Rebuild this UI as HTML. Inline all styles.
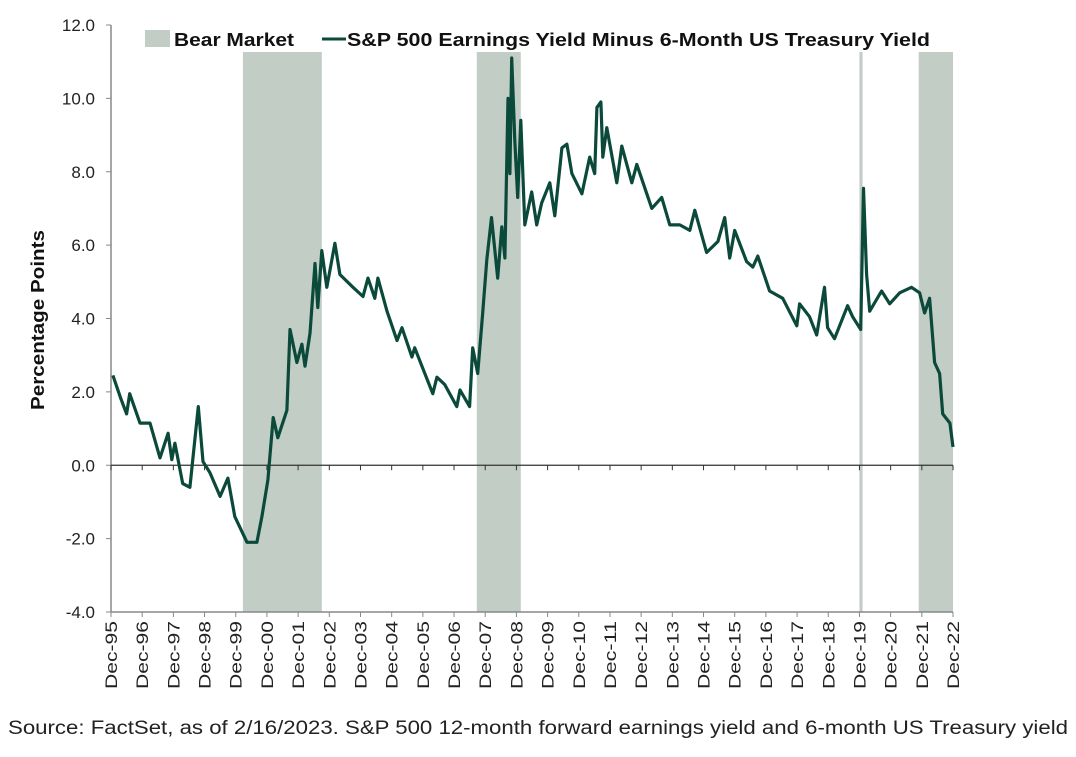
<!DOCTYPE html>
<html><head><meta charset="utf-8"><style>
body{margin:0;background:#fff;width:1076px;height:752px;overflow:hidden;font-family:"Liberation Sans",sans-serif}
</style></head><body>
<svg width="1076" height="752" id="c" font-family="Liberation Sans, sans-serif"></svg>
<script>
const yTicks=[12,10,8,6,4,2,0,-2,-4];
const xLabels=["Dec-95","Dec-96","Dec-97","Dec-98","Dec-99","Dec-00","Dec-01","Dec-02","Dec-03","Dec-04","Dec-05","Dec-06","Dec-07","Dec-08","Dec-09","Dec-10","Dec-11","Dec-12","Dec-13","Dec-14","Dec-15","Dec-16","Dec-17","Dec-18","Dec-19","Dec-20","Dec-21","Dec-22"];
const bearStart=[4.23,11.73,24.0,25.9];
const bearEnd=[6.76,13.14,24.1,27.0];
const t=[0.06,0.3,0.5,0.6,0.93,1.25,1.57,1.83,1.95,2.05,2.3,2.53,2.8,2.95,3.17,3.5,3.75,3.97,4.36,4.68,4.84,5.03,5.2,5.35,5.64,5.74,5.96,6.12,6.22,6.38,6.54,6.63,6.76,6.92,7.18,7.34,7.76,8.08,8.24,8.46,8.56,8.85,9.17,9.33,9.65,9.74,10.32,10.45,10.7,11.09,11.19,11.5,11.6,11.76,11.92,12.05,12.2,12.4,12.53,12.63,12.73,12.79,12.85,12.95,13.04,13.14,13.27,13.49,13.65,13.81,14.07,14.23,14.46,14.62,14.78,15.1,15.35,15.51,15.58,15.71,15.77,15.9,16.22,16.38,16.7,16.86,17.18,17.34,17.66,17.92,18.24,18.56,18.72,19.1,19.46,19.68,19.84,20.0,20.38,20.58,20.74,21.12,21.54,21.99,22.08,22.4,22.63,22.88,22.98,23.2,23.62,23.78,24.04,24.13,24.23,24.33,24.71,24.97,25.29,25.67,25.93,26.09,26.25,26.41,26.57,26.67,26.9,27.0];
const v=[2.45,1.85,1.4,1.95,1.15,1.15,0.2,0.87,0.15,0.6,-0.5,-0.6,1.6,0.1,-0.2,-0.85,-0.35,-1.4,-2.1,-2.1,-1.4,-0.4,1.3,0.75,1.5,3.7,2.8,3.3,2.7,3.6,5.5,4.3,5.85,4.85,6.05,5.2,4.85,4.6,5.1,4.55,5.1,4.2,3.4,3.75,2.95,3.2,1.95,2.4,2.2,1.6,2.05,1.6,3.2,2.5,4.15,5.6,6.75,5.1,6.5,5.65,10.0,7.95,11.1,8.85,7.3,9.4,6.55,7.45,6.55,7.15,7.7,6.8,8.65,8.75,7.95,7.4,8.4,7.95,9.75,9.9,8.4,9.2,7.7,8.7,7.7,8.2,7.4,7.0,7.3,6.55,6.55,6.4,6.95,5.8,6.1,6.75,5.65,6.4,5.55,5.4,5.7,4.75,4.55,3.8,4.4,4.05,3.55,4.85,3.75,3.45,4.35,4.05,3.7,7.55,5.2,4.2,4.75,4.4,4.7,4.85,4.7,4.15,4.55,2.8,2.5,1.4,1.15,0.5];

const X0=111,X1=953,Y0=25,Y1=612;
const xs=d=>X0+d*(X1-X0)/27;
const ys=val=>Y1-(val+4)*(Y1-Y0)/16;
const NS="http://www.w3.org/2000/svg";
const svg=document.getElementById('c');
function mk(tag,attrs,parent){const e=document.createElementNS(NS,tag);for(const k in attrs)e.setAttribute(k,attrs[k]);(parent||svg).appendChild(e);return e;}

for(let i=0;i<bearStart.length;i++){
  const r=mk('rect',{x:xs(bearStart[i]),y:52,width:Math.max(3,xs(bearEnd[i])-xs(bearStart[i])),height:Y1-52,fill:'#c2cdc5'});
  
  
}
const ax=mk('line',{x1:X0,y1:Y0,x2:X0,y2:Y1,stroke:'#888','stroke-width':1.5});


const bx=mk('line',{x1:X0,y1:Y1,x2:X1,y2:Y1,stroke:'#888','stroke-width':1.5});


const zl=mk('line',{x1:X0,y1:ys(0),x2:X1,y2:ys(0),stroke:'#333','stroke-width':1.2});


yTicks.forEach(tk=>{
  mk('line',{x1:X0-5,y1:ys(tk),x2:X0,y2:ys(tk),stroke:'#888'});
  const tx=mk('text',{x:95,y:ys(tk)+6,'text-anchor':'end','font-size':17,fill:'#222'});
  tx.textContent=tk.toFixed(1);
  
  
});
xLabels.forEach((lb,i)=>{
  const x=xs(i);
  mk('line',{x1:x,y1:ys(0),x2:x,y2:ys(0)+5,stroke:'#333'});
  mk('line',{x1:x,y1:Y1,x2:x,y2:Y1+5,stroke:'#888'});
  const tx=mk('text',{x:0,y:0,'text-anchor':'end','font-size':17,fill:'#222',textLength:68,lengthAdjust:'spacingAndGlyphs',transform:`translate(${x+6},${Y1+9}) rotate(-90)`});
  tx.textContent=lb;
  
  
});
const pts=t.map((d,i)=>xs(d).toFixed(1)+','+ys(v[i]).toFixed(1)).join(' ');
const ln=mk('polyline',{points:pts,fill:'none',stroke:'#0b4a3a','stroke-width':3.2,'stroke-linejoin':'round'});


</script>
<svg width="1076" height="752" style="position:absolute;left:0;top:0" font-family="Liberation Sans, sans-serif">
  <g>
    <rect x="145" y="30" width="25" height="17" fill="#c2cdc5"/>
    <text x="174" y="46" font-size="18" font-weight="bold" fill="#111" textLength="120" lengthAdjust="spacingAndGlyphs">Bear Market</text>
    <line x1="322" y1="39" x2="346" y2="39" stroke="#0b4a3a" stroke-width="3"/>
    <text x="347" y="46" font-size="18" font-weight="bold" fill="#111" textLength="583" lengthAdjust="spacingAndGlyphs">S&amp;P 500 Earnings Yield Minus 6-Month US Treasury Yield</text>
  </g>
  <text transform="translate(44,320) rotate(-90)" text-anchor="middle" font-size="18" font-weight="bold" fill="#111" textLength="180" lengthAdjust="spacingAndGlyphs">Percentage Points</text>
  <text x="8" y="734" font-size="19" fill="#222" textLength="1060" lengthAdjust="spacingAndGlyphs">Source: FactSet, as of 2/16/2023. S&amp;P 500 12-month forward earnings yield and 6-month US Treasury yield</text>
</svg>
</body></html>
